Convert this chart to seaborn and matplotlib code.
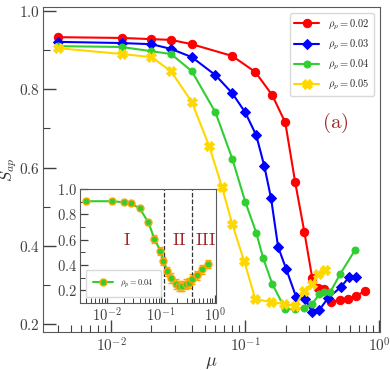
import numpy as np
import seaborn as sns
import matplotlib.pyplot as plt
from matplotlib.ticker import FuncFormatter, MultipleLocator, LogLocator, NullFormatter

# main panel: S_ap vs mu for four packing fractions
mu_red = [0.004, 0.012, 0.02, 0.028, 0.04, 0.08, 0.119, 0.159, 0.199, 0.236,
          0.276, 0.316, 0.351, 0.389, 0.438, 0.512, 0.587, 0.674, 0.786]
s_red = [0.933, 0.931, 0.928, 0.926, 0.915, 0.885, 0.844, 0.785, 0.715, 0.562,
         0.436, 0.318, 0.292, 0.290, 0.256, 0.262, 0.264, 0.272, 0.285]

mu_blue = [0.004, 0.012, 0.02, 0.028, 0.04, 0.06, 0.08, 0.1, 0.121, 0.139, 0.156,
           0.176, 0.202, 0.24, 0.281, 0.316, 0.357, 0.416, 0.52, 0.597, 0.674]
s_blue = [0.921, 0.918, 0.915, 0.903, 0.882, 0.836, 0.790, 0.741, 0.682, 0.603, 0.521,
          0.397, 0.341, 0.269, 0.264, 0.231, 0.236, 0.267, 0.295, 0.321, 0.321]

mu_green = [0.004, 0.012, 0.02, 0.028, 0.04, 0.06, 0.08, 0.1, 0.121, 0.136,
            0.159, 0.199, 0.236, 0.276, 0.316, 0.357, 0.389, 0.431, 0.512, 0.662]
s_green = [0.910, 0.908, 0.897, 0.890, 0.846, 0.741, 0.623, 0.513, 0.433, 0.369,
           0.303, 0.238, 0.238, 0.241, 0.251, 0.277, 0.282, 0.282, 0.328, 0.390]

mu_yellow = [0.004, 0.012, 0.02, 0.028, 0.04, 0.054, 0.067, 0.08, 0.098, 0.119,
             0.156, 0.195, 0.236, 0.276, 0.316, 0.351, 0.395]
s_yellow = [0.905, 0.890, 0.882, 0.846, 0.767, 0.654, 0.551, 0.456, 0.362, 0.264,
            0.256, 0.251, 0.246, 0.285, 0.303, 0.328, 0.338]

# inset: rho_p = 0.04 with error bars
mu_in = [0.004, 0.012, 0.02, 0.027, 0.04, 0.058, 0.075, 0.097, 0.11, 0.13,
         0.154, 0.191, 0.217, 0.246, 0.292, 0.332, 0.377, 0.466, 0.576, 0.743]
s_in = [0.904, 0.904, 0.896, 0.888, 0.848, 0.736, 0.608, 0.512, 0.432, 0.352,
        0.296, 0.248, 0.232, 0.232, 0.248, 0.256, 0.288, 0.320, 0.368, 0.408]
err_in = [0.01, 0.01, 0.01, 0.01, 0.012, 0.02, 0.03, 0.03, 0.035, 0.035,
          0.04, 0.04, 0.04, 0.04, 0.04, 0.04, 0.04, 0.035, 0.035, 0.03]
region_bounds = [0.115, 0.38]

sns.set_style('ticks')
plt.rcParams['font.family'] = ['DejaVu Serif']
plt.rcParams['mathtext.fontset'] = 'cm'

fig = plt.figure(figsize=(3.9, 3.7), dpi=100)
ax = fig.add_axes([0.110, 0.103, 0.864, 0.878])

series = [
    (mu_red, s_red, 'red', 'o', 6, r'$\rho_p = 0.02$'),
    (mu_blue, s_blue, 'blue', 'D', 5.5, r'$\rho_p = 0.03$'),
    (mu_green, s_green, 'limegreen', 'o', 5, r'$\rho_p = 0.04$'),
    (mu_yellow, s_yellow, 'gold', 'X', 6.5, r'$\rho_p = 0.05$'),
]
for mu, s, c, m, ms, lab in series:
    sns.lineplot(x=mu, y=s, ax=ax, color=c, marker=m, markersize=ms,
                 markeredgecolor=c, linewidth=1.5, label=lab,
                 estimator=None, sort=False)


def log_fmt(v, p):
    return f'$10^{{{int(round(np.log10(v)))}}}$'


ax.set_xscale('log')
ax.set_xlim(0.0031, 1.01)
ax.set_ylim(0.18, 1.01)
ax.yaxis.set_major_locator(MultipleLocator(0.2))
ax.yaxis.set_minor_locator(MultipleLocator(0.1))
ax.yaxis.set_major_formatter(FuncFormatter(lambda v, p: f'${v:.1f}$'))
ax.xaxis.set_major_locator(LogLocator(base=10))
ax.xaxis.set_minor_locator(LogLocator(base=10, subs=np.arange(2, 10)))
ax.xaxis.set_minor_formatter(NullFormatter())
ax.xaxis.set_major_formatter(FuncFormatter(log_fmt))
ax.tick_params(which='both', direction='in', top=False, right=False,
               color='0.25', labelcolor='0.25', labelsize=11)
ax.tick_params(axis='y', which='major', pad=2)
ax.tick_params(which='major', length=9, width=1)
ax.tick_params(which='minor', length=5, width=0.8)
for sp in ax.spines.values():
    sp.set_color('0.35')
ax.set_xlabel(r'$\mu$', fontsize=13, color='0.2')
ax.set_ylabel(r'$S_{ap}$', fontsize=12, color='0.2')
ax.xaxis.set_label_coords(0.5, -0.066)
ax.yaxis.set_label_coords(-0.07, 0.5)
ax.legend(loc='upper right', fontsize=7.5, borderaxespad=0.6, handlelength=2.4,
          labelspacing=0.55, framealpha=1, edgecolor='0.85')
ax.text(0.869, 0.643, r'$\mathrm{(a)}$', color='#a02828', fontsize=15,
        transform=ax.transAxes, ha='center', va='center')

axin = fig.add_axes([0.205, 0.181, 0.349, 0.308])
axin.errorbar(mu_in, s_in, yerr=err_in, fmt='none', ecolor='orange',
              elinewidth=1, capsize=2.5, zorder=2)
sns.lineplot(x=mu_in, y=s_in, ax=axin, color='limegreen', marker='o',
             markersize=5, markeredgecolor='orange', markeredgewidth=1,
             linewidth=1.5, label=r'$\rho_p = 0.04$', estimator=None,
             sort=False, zorder=3)
for b in region_bounds:
    axin.axvline(b, color='0.2', linestyle='--', linewidth=0.9)
axin.set_xscale('log')
axin.set_xlim(0.0031, 1.05)
axin.set_ylim(0.1, 1.0)
axin.yaxis.set_major_locator(MultipleLocator(0.2))
axin.yaxis.set_minor_locator(MultipleLocator(0.1))
axin.yaxis.set_major_formatter(FuncFormatter(lambda v, p: f'${v:.1f}$'))
axin.xaxis.set_major_locator(LogLocator(base=10))
axin.xaxis.set_minor_locator(LogLocator(base=10, subs=np.arange(2, 10)))
axin.xaxis.set_minor_formatter(NullFormatter())
axin.xaxis.set_major_formatter(FuncFormatter(log_fmt))
axin.tick_params(which='both', direction='in', top=False, right=False,
                 color='0.25', labelcolor='0.25', labelsize=10.5, pad=2)
axin.tick_params(which='major', length=6, width=0.9)
axin.tick_params(which='minor', length=3.5, width=0.7)
for sp in axin.spines.values():
    sp.set_color('0.35')
axin.set_xlabel('')
axin.set_ylabel('')
axin.legend(loc='lower left', fontsize=6, borderpad=0.9, handlelength=2.4,
            framealpha=1, edgecolor='0.85', borderaxespad=0.7)
for txt, xp in [('I', 0.346), ('II', 0.73), ('III', 0.925)]:
    axin.text(xp, 0.55, r'$\mathrm{' + txt + '}$', color='#a02828', fontsize=13,
              transform=axin.transAxes, ha='center', va='center')

fig.savefig('out.png', dpi=100)
